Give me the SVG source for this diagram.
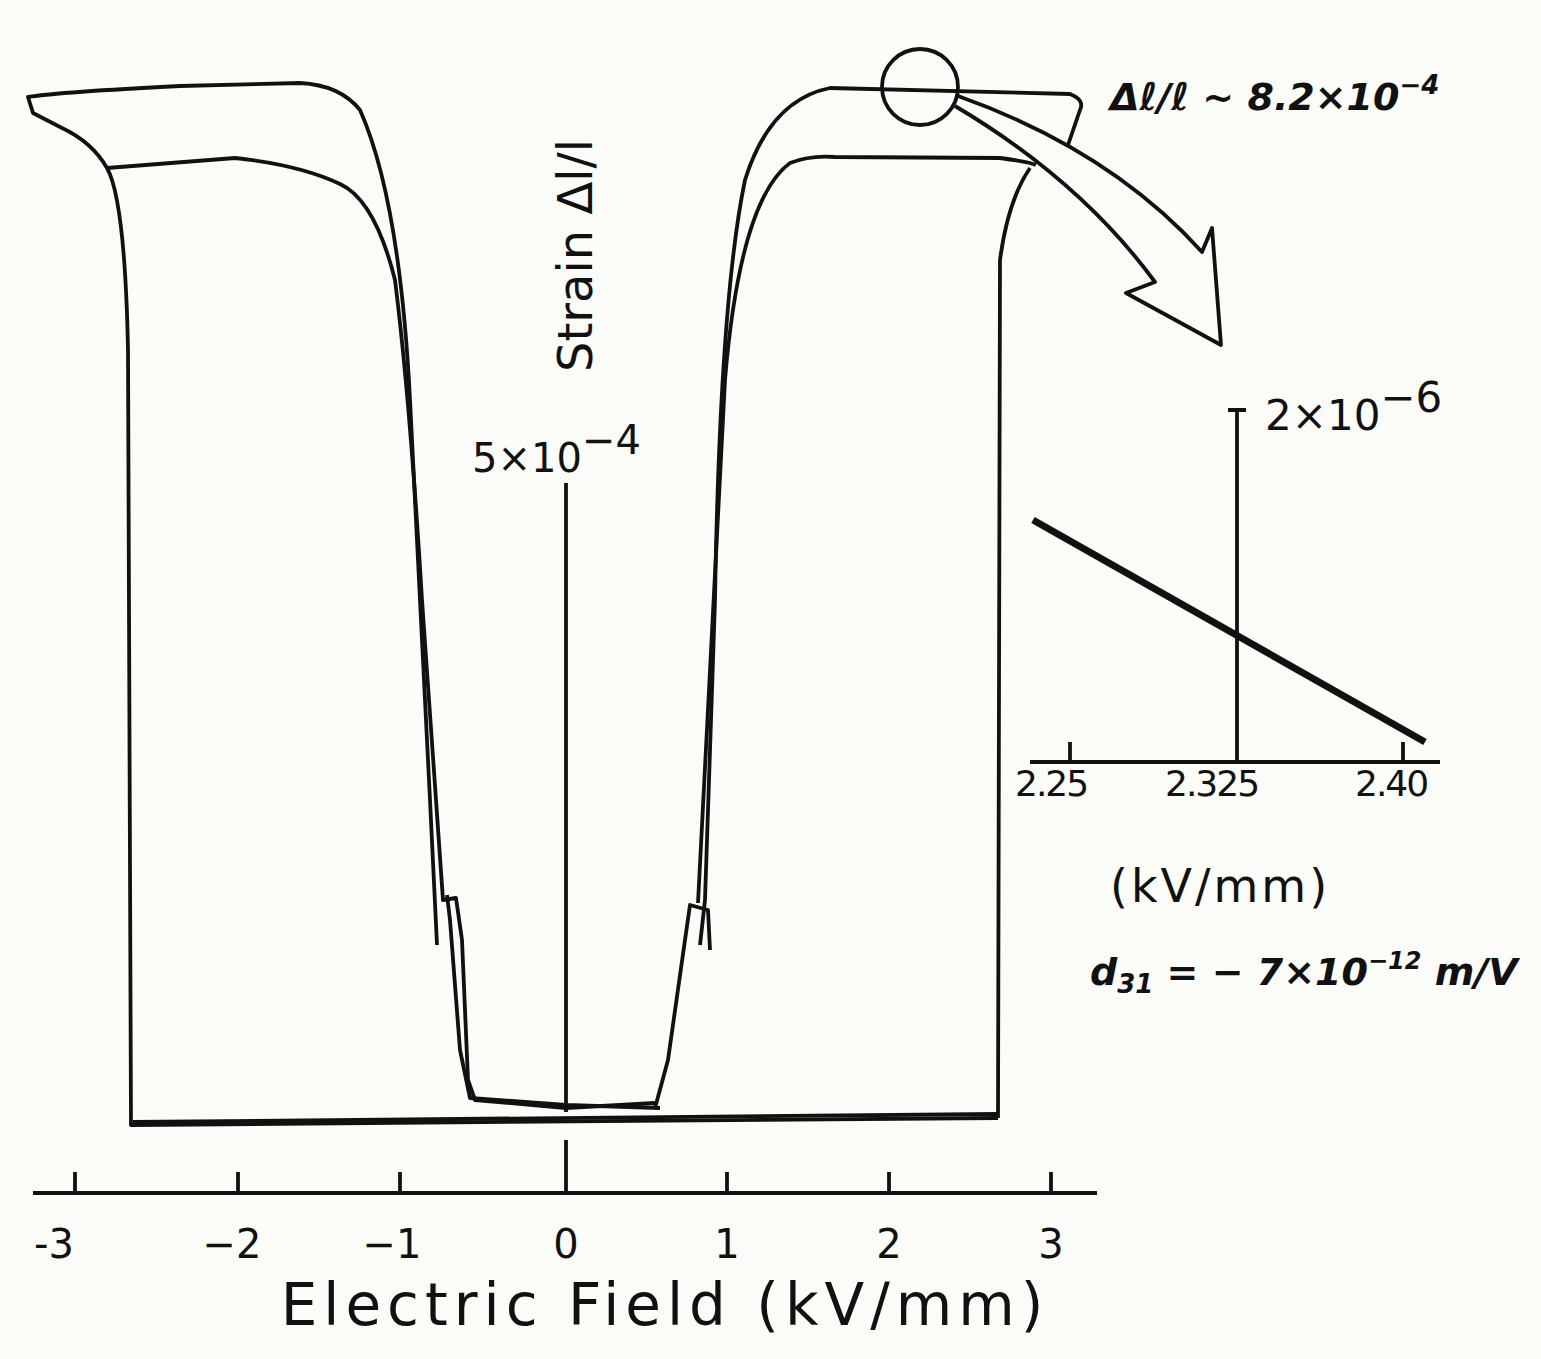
<svg xmlns="http://www.w3.org/2000/svg" width="1541" height="1359" viewBox="0 0 1541 1359">
<style>
.l{fill:none;stroke:#111;stroke-width:3.8;stroke-linejoin:round}
.t{font-family:"DejaVu Sans",sans-serif;fill:#111}
</style>
<rect width="1541" height="1359" fill="#fbfbf8"/>
<g id="axes">
<path class="l" d="M33 1193H1097M75 1193V1172M238 1193V1172M400 1193V1172M566 1193V1140M727 1193V1172M889 1193V1172M1051 1193V1172"/>
<path class="l" d="M566 483V1112"/>
</g>
<g id="curves">
<path class="l" d="M437 945 L430 800 L410 400 Q400 200 360 110 Q340 85 300 83 L180 86 Q60 92 28 97 L33 113 L62 128 Q92 142 107 168 Q125 200 128 350 L131 1125 L998 1118"/>
<path class="l" d="M107 168 L235 158 Q300 165 340 184 Q375 200 395 280 Q410 400 422 600 L443 900 L456 898 L462 940 L468 1080 L475 1100 L566 1108 L655 1103"/>
<path class="l" d="M447 895 L450 920 L460 1050 L470 1098 L566 1105 L660 1108"/>
<path class="l" d="M700 945 L705 900 L715 600 Q720 300 745 180 Q770 100 830 88 L1070 94 Q1085 100 1080 110 L1068 145"/>
<path class="l" d="M710 950 L708 910 L690 905 L685 940 L668 1060 L655 1108"/>
<path class="l" d="M698 903 Q705 750 725 380 Q740 200 790 163 Q810 155 835 157 L1000 158 Q1030 162 1036 165 M1030 168 Q1008 200 1000 260 L998 1118"/>
<path class="l" d="M133 1122 L998 1114"/>
<circle class="l" cx="920" cy="87" r="38"/>
</g>
<g id="arrow">
<path class="l" d="M958 96 Q1110 150 1202 252 L1212 228 L1221 345 L1126 293 L1155 282 Q1080 180 955 106"/>
</g>
<g id="inset">
<path class="l" d="M1228 410H1246M1237 410V762M1030 762H1440M1070 762V742M1403 762V742"/>
<path d="M1033 520 L1425 742" stroke="#111" stroke-width="7"/>
</g>
<g id="labels">
<text class="t" x="54" y="1258" font-size="40" text-anchor="middle">-3</text>
<text class="t" x="232" y="1258" font-size="40" text-anchor="middle">−2</text>
<text class="t" x="392" y="1258" font-size="40" text-anchor="middle">−1</text>
<text class="t" x="566" y="1258" font-size="40" text-anchor="middle">0</text>
<text class="t" x="727" y="1258" font-size="40" text-anchor="middle">1</text>
<text class="t" x="889" y="1258" font-size="40" text-anchor="middle">2</text>
<text class="t" x="1051" y="1258" font-size="40" text-anchor="middle">3</text>
<text class="t" x="665" y="1325" font-size="58" text-anchor="middle" letter-spacing="6">Electric Field (kV/mm)</text>
<text class="t" x="472" y="472" font-size="40">5×10<tspan dy="-18">−4</tspan></text>
<text class="t" font-size="48" transform="translate(592 372) rotate(-90)">Strain Δl/l</text>
<text class="t" x="1265" y="430" font-size="42">2×10<tspan dy="-18">−6</tspan></text>
<text class="t" x="1015" y="796" font-size="36" letter-spacing="-2">2.25</text>
<text class="t" x="1165" y="796" font-size="36" letter-spacing="-2">2.325</text>
<text class="t" x="1355" y="796" font-size="36" letter-spacing="-2">2.40</text>
<text class="t" x="1110" y="902" font-size="46" letter-spacing="3">(kV/mm)</text>
<text class="t" x="1090" y="985" font-size="38" font-style="italic" font-weight="bold">d<tspan font-size="26" dy="8">31</tspan><tspan dy="-8"> = − 7×10</tspan><tspan font-size="24" dy="-16">−12</tspan><tspan dy="16"> m/V</tspan></text>
<text class="t" x="1110" y="110" font-size="38" font-style="italic" font-weight="bold">Δℓ/ℓ ~ 8.2×10<tspan font-size="26" dy="-16">−4</tspan></text>
</g>
</svg>
